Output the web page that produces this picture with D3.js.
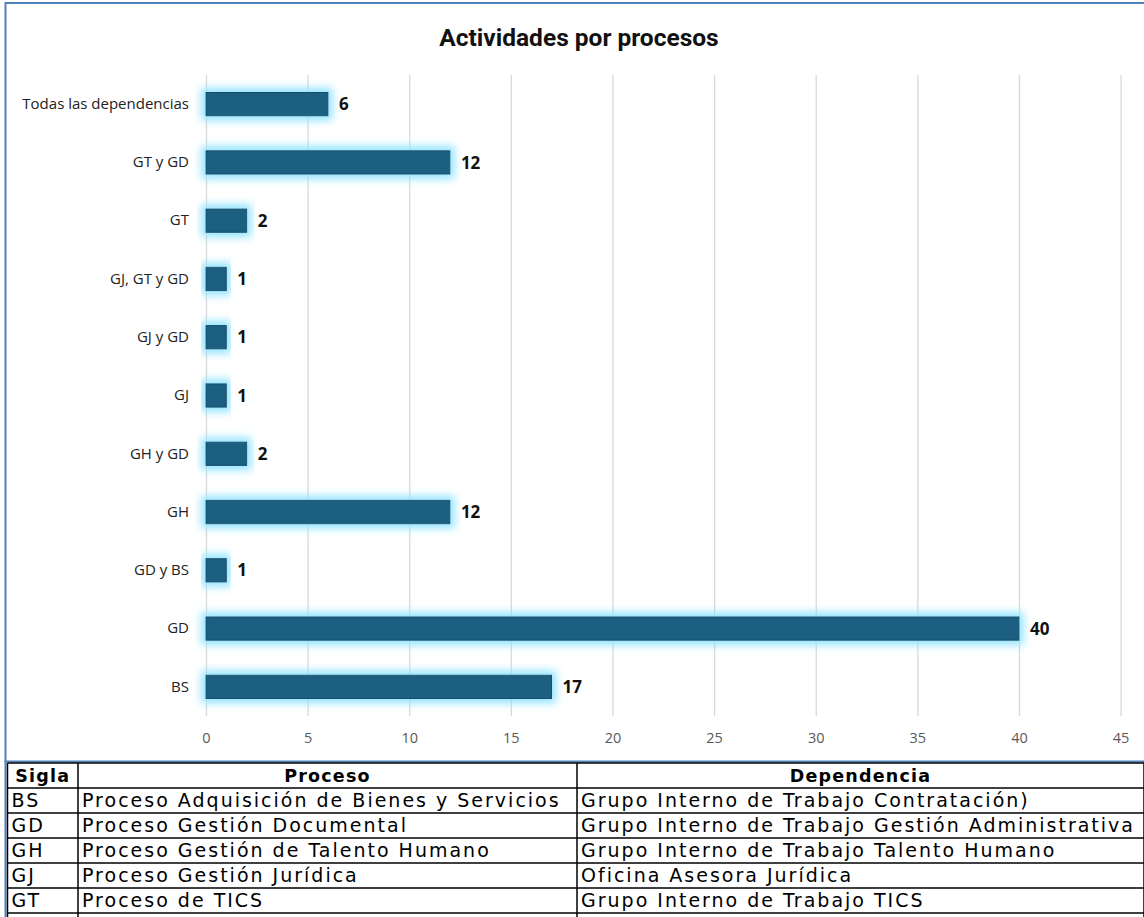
<!DOCTYPE html>
<html><head><meta charset="utf-8">
<script src="https://cdn.jsdelivr.net/npm/d3@7"></script>
<style>body{margin:0;background:#fff;}svg{display:block;}</style>
</head><body>
<svg id="c" width="1144" height="917"></svg>
<script>
const categories = ["Todas las dependencias","GT y GD","GT","GJ, GT y GD","GJ y GD","GJ","GH y GD","GH","GD y BS","GD","BS"];
const values = [6,12,2,1,1,1,2,12,1,40,17];
const xTicks = [0,5,10,15,20,25,30,35,40,45];
const title = "Actividades por procesos";
const tableHeader = ["Sigla","Proceso","Dependencia"];
const siglas = ["BS","GD","GH","GJ","GT"];
const procesos = ["Proceso Adquisición de Bienes y Servicios","Proceso Gestión Documental","Proceso Gestión de Talento Humano","Proceso Gestión Jurídica","Proceso de TICS"];
const dependencias = ["Grupo Interno de Trabajo Contratación)","Grupo Interno de Trabajo Gestión Administrativa","Grupo Interno de Trabajo Talento Humano","Oficina Asesora Jurídica","Grupo Interno de Trabajo TICS"];

const svg = d3.select("#c");
const defs = svg.append("defs");
const f = defs.append("filter").attr("id","glow").attr("x","-20%").attr("y","-100%").attr("width","140%").attr("height","300%");
f.append("feMorphology").attr("in","SourceAlpha").attr("operator","dilate").attr("radius",4).attr("result","d");
f.append("feGaussianBlur").attr("in","d").attr("stdDeviation",4).attr("result","b");
f.append("feFlood").attr("flood-color","#8fe3ff").attr("flood-opacity",1).attr("result","c");
f.append("feComposite").attr("in","c").attr("in2","b").attr("operator","in").attr("result","g");
const m = f.append("feMerge");
m.append("feMergeNode").attr("in","g");
m.append("feMergeNode").attr("in","SourceGraphic");

// frame
svg.append("rect").attr("x",5.5).attr("y",3).attr("width",1150).attr("height",758.5)
  .attr("fill","#fff").attr("stroke","#4f81bd").attr("stroke-width",2);
svg.append("line").attr("x1",5.5).attr("x2",5.5).attr("y1",761).attr("y2",917).attr("stroke","#4f81bd").attr("stroke-width",2);

const x = d3.scaleLinear().domain([0,45]).range([206,1120.6]);
const y = d3.scaleBand().domain(categories).range([75,716]).paddingInner(0.6).paddingOuter(0.3);

svg.append("text").attr("x",579).attr("y",46).attr("text-anchor","middle")
  .attr("font-family","Roboto").attr("font-weight","bold").attr("font-size",24.5).attr("fill","#111").text(title);

// grid
const gx = svg.append("g").attr("transform","translate(0,716)")
  .call(d3.axisBottom(x).tickValues(xTicks).tickSize(-641).tickPadding(17));
gx.select(".domain").remove();
gx.selectAll(".tick line").attr("stroke","#d9d9d9").attr("stroke-width",1.3);
gx.selectAll(".tick text").attr("font-family","Open Sans").attr("font-size",14.5).attr("fill","#595959");

// y labels
const gy = svg.append("g").attr("transform","translate(189,0)")
  .call(d3.axisLeft(y).tickSize(0).tickPadding(0));
gy.select(".domain").remove();
gy.selectAll(".tick text").attr("font-family","Open Sans").attr("font-size",15).attr("fill","#222");

// bars
svg.append("g").selectAll("rect").data(values).join("rect")
  .attr("x",x(0)).attr("y",(d,i)=>y(categories[i]))
  .attr("width",d=>x(d)-x(0)).attr("height",y.bandwidth())
  .attr("fill","#1a5e80").attr("stroke","#164f6b").attr("stroke-width",1)
  .attr("filter","url(#glow)");

svg.append("g").selectAll("text").data(values).join("text")
  .attr("x",d=>x(d)+11).attr("y",(d,i)=>y(categories[i])+y.bandwidth()/2)
  .attr("dy","0.36em").attr("font-family","Open Sans").attr("font-weight","bold")
  .attr("font-size",17).attr("fill","#111").text(d=>d);

// table
const colX = [7.5,78,577,1144];
const rowY = d3.range(7).map(i=>763+i*25);
const tg = svg.append("g");
rowY.forEach(v=>tg.append("line").attr("x1",7.5).attr("x2",1144).attr("y1",v).attr("y2",v).attr("stroke","#000").attr("stroke-width",1.5));
colX.forEach(v=>tg.append("line").attr("x1",v).attr("x2",v).attr("y1",763).attr("y2",917).attr("stroke","#000").attr("stroke-width",1.5));
const tfont = "DejaVu Sans";
tg.selectAll("text.h").data(tableHeader).join("text").attr("class","h")
  .attr("x",(d,i)=>(colX[i]+colX[i+1])/2).attr("y",782)
  .attr("text-anchor","middle").attr("font-family",tfont).attr("font-weight","bold")
  .attr("font-size",17.5).attr("letter-spacing",1.2).attr("fill","#000").text(d=>d);
const rows = siglas.map((s,i)=>[s,procesos[i],dependencias[i]]);
rows.forEach((r,ri)=>{
  r.forEach((t,ci)=>{
    tg.append("text").attr("x",colX[ci]+4).attr("y",807+ri*25)
      .attr("font-family",tfont).attr("font-size",19).attr("letter-spacing",2.0).attr("fill","#000").text(t);
  });
});
</script>
</body></html>
